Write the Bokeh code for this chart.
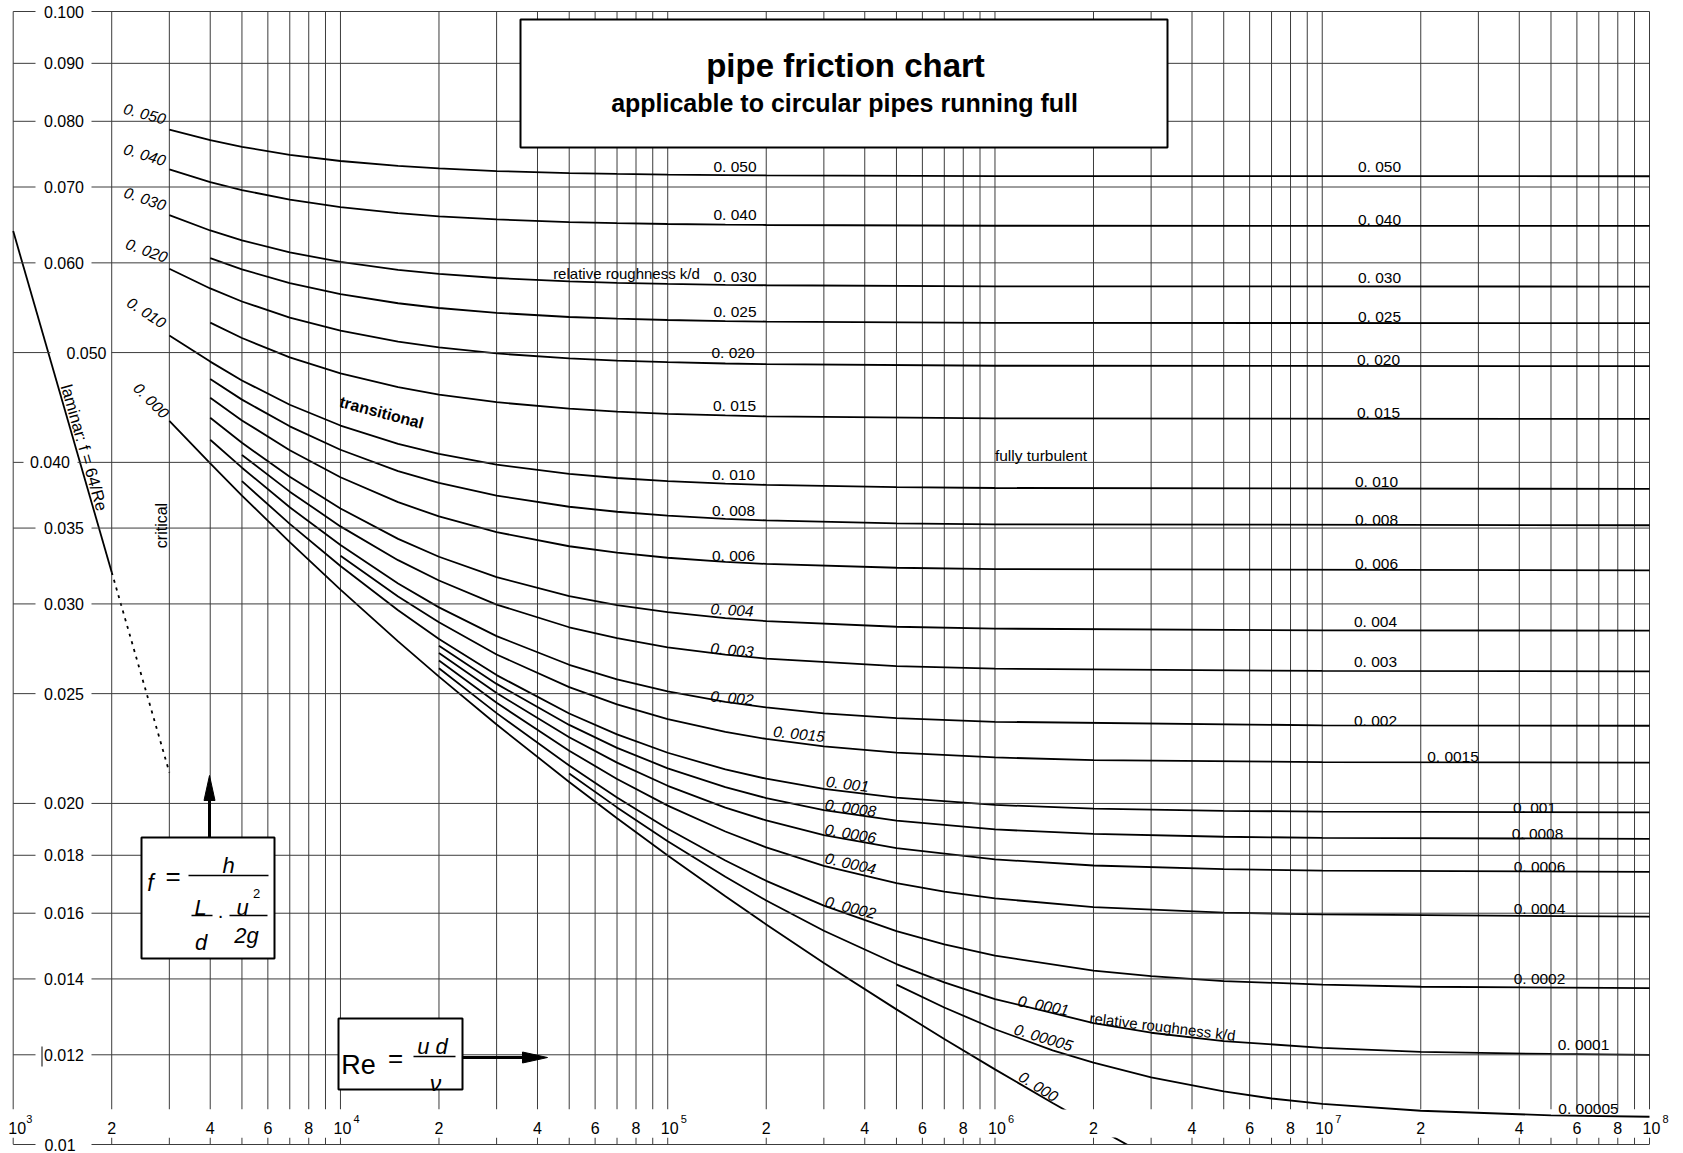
import numpy as np
from bokeh.plotting import figure
from bokeh.models import Label, Range1d
from bokeh.embed import file_html
from bokeh.resources import INLINE

# ---------------- data ----------------
# friction factor f against Reynolds number Re, one pair of lists per relative roughness k/d
re_050 = [3e3, 4e3, 5e3, 7e3, 1e4, 1.5e4, 2e4, 3e4, 5e4, 7e4, 1e5, 1.5e5, 2e5, 1e6, 1e8]
f_050 = [0.07867, 0.07698, 0.07595, 0.07473, 0.07380, 0.07306, 0.07269, 0.07231, 0.07201, 0.07188,
         0.07178, 0.07171, 0.07167, 0.07157, 0.07155]
re_040 = [3e3, 4e3, 5e3, 7e3, 1e4, 1.5e4, 2e4, 3e4, 5e4, 7e4, 1e5, 1.5e5, 2e5, 1e6, 1e8]
f_040 = [0.07254, 0.07070, 0.06956, 0.06823, 0.06720, 0.06637, 0.06595, 0.06553, 0.06519, 0.06504,
         0.06493, 0.06484, 0.06480, 0.06470, 0.06467]
re_030 = [3e3, 4e3, 5e3, 7e3, 1e4, 1.5e4, 2e4, 3e4, 5e4, 7e4, 1e5, 1.5e5, 2e5, 1e6, 1e8]
f_030 = [0.06611, 0.06408, 0.06280, 0.06129, 0.06011, 0.05916, 0.05867, 0.05818, 0.05778, 0.05761,
         0.05748, 0.05738, 0.05733, 0.05721, 0.05718]
re_025 = [4e3, 5e3, 7e3, 1e4, 1.5e4, 2e4, 3e4, 5e4, 7e4, 1e5, 1.5e5, 2e5, 1e6, 1e8]
f_025 = [0.06059, 0.05921, 0.05759, 0.05630, 0.05527, 0.05474, 0.05420, 0.05375, 0.05356, 0.05342,
         0.05331, 0.05325, 0.05311, 0.05308]
re_020 = [3e3, 4e3, 5e3, 7e3, 1e4, 1.5e4, 2e4, 3e4, 5e4, 7e4, 1e5, 1.5e5, 2e5, 1e6, 1e8]
f_020 = [0.05929, 0.05696, 0.05547, 0.05368, 0.05227, 0.05112, 0.05052, 0.04991, 0.04941, 0.04919,
         0.04903, 0.04890, 0.04883, 0.04868, 0.04864]
re_015 = [4e3, 5e3, 7e3, 1e4, 1.5e4, 2e4, 3e4, 5e4, 7e4, 1e5, 1.5e5, 2e5, 1e6, 1e8]
f_015 = [0.05314, 0.05150, 0.04951, 0.04792, 0.04660, 0.04591, 0.04520, 0.04461, 0.04435, 0.04415,
         0.04400, 0.04392, 0.04374, 0.04369]
re_010 = [3e3, 4e3, 5e3, 7e3, 1e4, 1.5e4, 2e4, 3e4, 5e4, 7e4, 1e5, 1.5e5, 2e5, 5e5, 1e6, 1e8]
f_010 = [0.05177, 0.04909, 0.04724, 0.04497, 0.04311, 0.04154, 0.04070, 0.03982, 0.03908, 0.03875,
         0.03850, 0.03831, 0.03821, 0.03803, 0.03797, 0.03790]
re_008 = [4e3, 5e3, 7e3, 1e4, 1.5e4, 2e4, 3e4, 5e4, 7e4, 1e5, 1.5e5, 2e5, 5e5, 1e6, 1e8]
f_008 = [0.04738, 0.04544, 0.04304, 0.04104, 0.03930, 0.03837, 0.03739, 0.03655, 0.03618, 0.03589,
         0.03566, 0.03555, 0.03534, 0.03527, 0.03520]
re_006 = [4e3, 5e3, 7e3, 1e4, 1.5e4, 2e4, 3e4, 5e4, 7e4, 1e5, 1.5e5, 2e5, 5e5, 1e6, 1e8]
f_006 = [0.04561, 0.04356, 0.04100, 0.03881, 0.03689, 0.03584, 0.03471, 0.03373, 0.03329, 0.03295,
         0.03268, 0.03254, 0.03229, 0.03220, 0.03212]
re_004 = [4e3, 5e3, 7e3, 1e4, 1.5e4, 2e4, 3e4, 5e4, 7e4, 1e5, 1.5e5, 2e5, 5e5, 1e6, 1e7, 1e8]
f_004 = [0.04379, 0.04162, 0.03884, 0.03642, 0.03424, 0.03302, 0.03168, 0.03048, 0.02993, 0.02950,
         0.02915, 0.02897, 0.02864, 0.02853, 0.02843, 0.02842]
re_003 = [5e3, 7e3, 1e4, 1.5e4, 2e4, 3e4, 5e4, 7e4, 1e5, 1.5e5, 2e5, 5e5, 1e6, 1e7, 1e8]
f_003 = [0.04061, 0.03769, 0.03512, 0.03279, 0.03146, 0.02996, 0.02861, 0.02798, 0.02747, 0.02706,
         0.02684, 0.02644, 0.02630, 0.02618, 0.02616]
re_002 = [4e3, 5e3, 7e3, 1e4, 1.5e4, 2e4, 3e4, 5e4, 7e4, 1e5, 1.5e5, 2e5, 3e5, 5e5, 1e6, 1e7, 1e8]
f_002 = [0.04188, 0.03957, 0.03651, 0.03381, 0.03127, 0.02979, 0.02810, 0.02651, 0.02573, 0.02511,
         0.02458, 0.02431, 0.02402, 0.02379, 0.02361, 0.02344, 0.02342]
re_0015 = [1e4, 1.5e4, 2e4, 3e4, 5e4, 7e4, 1e5, 1.5e5, 2e5, 3e5, 5e5, 1e6, 2e6, 1e7, 1e8]
f_0015 = [0.03309, 0.03045, 0.02890, 0.02707, 0.02533, 0.02446, 0.02374, 0.02313, 0.02280, 0.02246,
          0.02218, 0.02196, 0.02184, 0.02175, 0.02173]
re_001 = [5e3, 7e3, 1e4, 1.5e4, 2e4, 3e4, 5e4, 7e4, 1e5, 1.5e5, 2e5, 3e5, 5e5, 1e6, 2e6, 5e6, 1e7, 1e8]
f_001 = [0.03850, 0.03530, 0.03240, 0.02962, 0.02794, 0.02596, 0.02401, 0.02301, 0.02217, 0.02143,
         0.02103, 0.02060, 0.02024, 0.01994, 0.01979, 0.01970, 0.01967, 0.01964]
re_0008 = [2e4, 3e4, 5e4, 7e4, 1e5, 1.5e5, 2e5, 3e5, 5e5, 1e6, 2e6, 5e6, 1e7, 1e8]
f_0008 = [0.02755, 0.02550, 0.02346, 0.02239, 0.02148, 0.02067, 0.02022, 0.01973, 0.01931, 0.01897,
          0.01880, 0.01869, 0.01865, 0.01861]
re_0006 = [2e4, 3e4, 5e4, 7e4, 1e5, 1.5e5, 2e5, 3e5, 5e5, 1e6, 2e6, 5e6, 1e7, 1e8]
f_0006 = [0.02715, 0.02503, 0.02288, 0.02173, 0.02073, 0.01983, 0.01932, 0.01875, 0.01826, 0.01785,
          0.01763, 0.01750, 0.01745, 0.01740]
re_0004 = [2e4, 3e4, 5e4, 7e4, 1e5, 1.5e5, 2e5, 3e5, 5e5, 7e5, 1e6, 2e6, 5e6, 1e7, 1e8]
f_0004 = [0.02674, 0.02454, 0.02226, 0.02102, 0.01991, 0.01889, 0.01829, 0.01762, 0.01701, 0.01672,
          0.01649, 0.01620, 0.01602, 0.01596, 0.01589]
re_0002 = [2e4, 3e4, 5e4, 7e4, 1e5, 1.5e5, 2e5, 3e5, 5e5, 7e5, 1e6, 2e6, 3e6, 5e6, 1e7, 2e7, 1e8]
f_0002 = [0.02632, 0.02403, 0.02160, 0.02024, 0.01900, 0.01781, 0.01709, 0.01625, 0.01543, 0.01502,
          0.01468, 0.01424, 0.01408, 0.01394, 0.01384, 0.01378, 0.01374]
re_0001 = [5e4, 7e4, 1e5, 1.5e5, 2e5, 3e5, 5e5, 7e5, 1e6, 2e6, 3e6, 5e6, 1e7, 2e7, 5e7, 1e8]
f_0001 = [0.02125, 0.01984, 0.01852, 0.01723, 0.01642, 0.01544, 0.01443, 0.01390, 0.01344, 0.01280,
          0.01255, 0.01234, 0.01217, 0.01207, 0.01202, 0.01200]
re_00005 = [5e5, 7e5, 1e6, 1.5e6, 2e6, 3e6, 5e6, 7e6, 1e7, 2e7, 5e7, 1e8]
f_00005 = [0.01384, 0.01321, 0.01264, 0.01211, 0.01181, 0.01146, 0.01114, 0.01098, 0.01086, 0.01071,
           0.01061, 0.01058]
re_000 = [3e3, 4e3, 5e3, 7e3, 1e4, 1.5e4, 2e4, 3e4, 5e4, 7e4, 1e5, 1.5e5, 2e5, 3e5, 5e5, 7e5, 1e6,
          1.5e6, 2e6, 3e6]
f_000 = [0.04352, 0.03991, 0.03739, 0.03401, 0.03088, 0.02780, 0.02588, 0.02348, 0.02089, 0.01941,
         0.01799, 0.01656, 0.01564, 0.01446, 0.01316, 0.01239, 0.01165, 0.01088, 0.01038, 0.00973]

# laminar line f = 64/Re and its dotted extension
re_laminar = [1e3, 2e3]
f_laminar = [0.064, 0.032]
re_laminar_ext = [2e3, 3e3]
f_laminar_ext = [0.032, 0.0213]

# axes
y_ticks = [0.1, 0.09, 0.08, 0.07, 0.06, 0.05, 0.04, 0.035, 0.03, 0.025, 0.02, 0.018, 0.016, 0.014, 0.012, 0.01]
y_tick_labels = ["0.100", "0.090", "0.080", "0.070", "0.060", "0.050", "0.040", "0.035", "0.030",
                 "0.025", "0.020", "0.018", "0.016", "0.014", "0.012", "0.01"]
x_decades = [3, 4, 5, 6, 7]
x_mults = [1, 2, 3, 4, 5, 6, 7, 8, 9]
x_labelled_mults = [2, 4, 6, 8]

rough_curves = [(re_050, f_050), (re_040, f_040), (re_030, f_030), (re_025, f_025), (re_020, f_020),
                (re_015, f_015), (re_010, f_010), (re_008, f_008), (re_006, f_006), (re_004, f_004),
                (re_003, f_003), (re_002, f_002), (re_0015, f_0015), (re_001, f_001), (re_0008, f_0008),
                (re_0006, f_0006), (re_0004, f_0004), (re_0002, f_0002), (re_0001, f_0001),
                (re_00005, f_00005)]

# ---------------- layout ----------------
FONT = "Liberation Sans"
GRID = "#3c3c3c"
W, H = 1680, 1152
FL, FR, FT, FB = 12.7, 1649.0, 11.0, 1144.0   # where 1e3, 1e8, 0.1 and 0.01 sit on the canvas (px)
DX = (FR - FL) / 5.0
DY = (FB - FT) / 1.0


def rx(px):
    return 10 ** (3 + (px - FL) / DX)


def fy(py):
    return 10 ** (-1 - (py - FT) / DY)


x_lo, x_hi = rx(0), rx(W)
y_lo, y_hi = fy(H), fy(0)

p = figure(width=W, height=H, title=None,
           x_axis_type="log", y_axis_type="log",
           x_range=Range1d(x_lo, x_hi), y_range=Range1d(y_lo, y_hi),
           x_axis_location=None, y_axis_location=None,
           toolbar_location=None, output_backend="svg",
           min_border_left=0, min_border_right=0, min_border_top=0, min_border_bottom=0)
p.outline_line_color = None
p.grid.visible = False
p.background_fill_color = "white"
p.border_fill_color = "white"

BAND_TOP, BAND_BOT = 1109, 1137

# vertical grid lines and bottom ticks
xg = [m * 10.0 ** d for d in x_decades for m in x_mults] + [1e8]
p.segment(x0=xg, x1=xg, y0=[0.1] * len(xg), y1=[fy(BAND_TOP)] * len(xg), line_color=GRID, line_width=1)
p.segment(x0=xg, x1=xg, y0=[fy(BAND_BOT)] * len(xg), y1=[0.01] * len(xg), line_color=GRID, line_width=1)

# smooth pipe curve, partly hidden by the label band and cut at the bottom edge
p.line(re_000, f_000, line_color="black", line_width=1.8)
p.quad(left=[1e3 * 0.99, x_lo], right=[1e8 * 1.01, x_hi], top=[fy(BAND_TOP), 0.01],
       bottom=[fy(BAND_BOT), y_lo], fill_color="white", line_color=None)

p.multi_line(xs=[c[0] for c in rough_curves], ys=[c[1] for c in rough_curves],
             line_color="black", line_width=1.8)
p.line(re_laminar, f_laminar, line_color="black", line_width=1.8)
p.line(re_laminar_ext, f_laminar_ext, line_color="black", line_width=1.8, line_dash="3 5")

# horizontal grid lines, broken where their labels sit
gaps = {0.05: (50, 111), 0.04: (23, 77)}
hx0, hx1, hy = [], [], []
for yv in y_ticks:
    gl, gr = gaps.get(yv, (35, 91))
    hx0 += [1e3, rx(gr)]
    hx1 += [rx(gl), 1e8]
    hy += [yv, yv]
p.segment(x0=hx0, x1=hx1, y0=hy, y1=hy, line_color=GRID, line_width=1)
# stray mark in front of the 0.012 label
p.segment(x0=[rx(41.5)], x1=[rx(41.5)], y0=[fy(1046)], y1=[fy(1066)], line_color="black", line_width=1)

# boxes
p.quad(left=[rx(520), rx(141), rx(338)], right=[rx(1167), rx(274), rx(462)],
       top=[fy(19), fy(837), fy(1018)], bottom=[fy(147), fy(958), fy(1089)],
       fill_color="white", line_color="black", line_width=2)

# arrows
p.segment(x0=[rx(209), rx(462)], x1=[rx(209), rx(524)], y0=[fy(837), fy(1057)], y1=[fy(798), fy(1057)],
          line_color="black", line_width=3)
p.patches(xs=[[rx(209), rx(203.5), rx(214.5)], [rx(547), rx(522), rx(522)]],
          ys=[[fy(775), fy(800), fy(800)], [fy(1057), fy(1051.5), fy(1062.5)]],
          fill_color="black", line_color="black")

# fraction bars of the formulas
p.segment(x0=[rx(188), rx(191), rx(229), rx(413)], x1=[rx(268), rx(212), rx(267), rx(455)],
          y0=[fy(875), fy(915), fy(915), fy(1056)], y1=[fy(875), fy(915), fy(915), fy(1056)],
          line_color="black", line_width=1.3)


def lab(px, py, text, size=15, style="normal", angle=0.0, align="center", baseline="middle",
        xo=0, yo=0, x=None, y=None):
    p.add_layout(Label(x=rx(px) if x is None else x, y=fy(py) if y is None else y, text=text,
                       text_font=FONT, text_font_size=f"{size}px", text_font_style=style,
                       text_color="black", angle=np.radians(angle), text_align=align,
                       text_baseline=baseline, x_offset=xo, y_offset=yo))


# y tick labels
ylab_x = {0.05: 86, 0.04: 49.5, 0.01: 59.5}
for yv, t in zip(y_ticks, y_tick_labels):
    lab(ylab_x.get(yv, 63.5), 0, t, size=16, y=yv)

# x tick labels
for d in x_decades + [8]:
    lab(0, 1127, "10", size=16, x=10.0 ** d, xo=4 if d == 3 else 2)
    lab(0, 1118, str(d), size=11, x=10.0 ** d, xo=16)
for d in x_decades:
    for m in x_labelled_mults:
        lab(0, 1127, str(m), size=16, x=m * 10.0 ** d)

# title
lab(845, 65, "pipe friction chart", size=33, style="bold")
lab(844, 102, "applicable to circular pipes running full", size=25, style="bold")

# formula f
lab(150, 882, "f", size=23, style="italic", baseline="alphabetic")
lab(172.5, 875, "=", size=26)
lab(228, 865, "h", size=22, style="italic", baseline="alphabetic")
lab(200, 907, "L", size=22, style="italic", baseline="alphabetic")
lab(200.5, 942, "d", size=22, style="italic", baseline="alphabetic")
lab(220, 914, "·", size=20)
lab(242, 907, "u", size=22, style="italic", baseline="alphabetic")
lab(256, 893, "2", size=13, baseline="alphabetic")
lab(246, 935, "2g", size=22, style="italic", baseline="alphabetic")
# formula Re
lab(358, 1064, "Re", size=27, baseline="alphabetic")
lab(395, 1057, "=", size=26)
lab(432, 1046, "u d", size=22, style="italic", baseline="alphabetic")
lab(435, 1082, "ν", size=23, style="italic", baseline="alphabetic")

# region labels
lab(84, 447, "laminar: f = 64/Re", size=16.5, angle=-73.9)
lab(160.5, 525, "critical", size=16, angle=90)
lab(381, 412, "transitional", size=16, style="bold", angle=-15)
lab(1040.5, 454.5, "fully turbulent", size=15.5)
lab(626, 272.5, "relative roughness k/d", size=15)
lab(1162, 1026, "relative roughness k/d", size=15, angle=-7)

# curve labels, left column
for (px, py, t, a) in [(144.2, 113.3, "0. 050", -15), (144.2, 154.2, "0. 040", -17),
                       (144.5, 198.3, "0. 030", -19), (146.2, 250, "0. 020", -20),
                       (146, 312, "0. 010", -33), (150.8, 400, "0. 000", -45)]:
    lab(px, py, t, size=15.5, style="italic", angle=a)

# curve labels, middle column
for (px, py, t) in [(734.5, 166, "0. 050"), (734.5, 214, "0. 040"), (734.5, 275.5, "0. 030"),
                    (734.5, 311, "0. 025"), (732.5, 351.5, "0. 020"), (734, 405, "0. 015"),
                    (733, 474, "0. 010"), (733, 510, "0. 008"), (733, 555, "0. 006")]:
    lab(px, py, t, size=15.5)
for (px, py, t, a) in [(731.5, 609.5, "0. 004", -3), (731.5, 649.5, "0. 003", -5),
                       (731.5, 697.5, "0. 002", -5), (798.5, 733.5, "0. 0015", -6),
                       (847, 783.5, "0. 001", -7), (850, 807.5, "0. 0008", -8),
                       (850, 833, "0. 0006", -10), (850, 863, "0. 0004", -13),
                       (850, 907, "0. 0002", -14), (1043, 1005, "0. 0001", -11),
                       (1043, 1037, "0. 00005", -17), (1038, 1086, "0. 000", -32)]:
    lab(px, py, t, size=15.5, style="italic", angle=a)

# curve labels, right column
for (px, py, t) in [(1379, 166, "0. 050"), (1379, 219, "0. 040"), (1379, 277, "0. 030"),
                    (1379, 316, "0. 025"), (1378, 359, "0. 020"), (1378, 411.5, "0. 015"),
                    (1376, 481, "0. 010"), (1376, 518.5, "0. 008"), (1376, 563, "0. 006"),
                    (1375, 621, "0. 004"), (1375, 661, "0. 003"), (1375, 720, "0. 002"),
                    (1452.5, 755.5, "0. 0015"), (1534, 807, "0. 001"), (1537, 832.5, "0. 0008"),
                    (1539, 865.5, "0. 0006"), (1539, 907.5, "0. 0004"), (1539, 978, "0. 0002"),
                    (1583, 1044, "0. 0001"), (1588, 1108, "0. 00005")]:
    lab(px, py, t, size=15.5)

open("out.html", "w").write(file_html(p, INLINE))
